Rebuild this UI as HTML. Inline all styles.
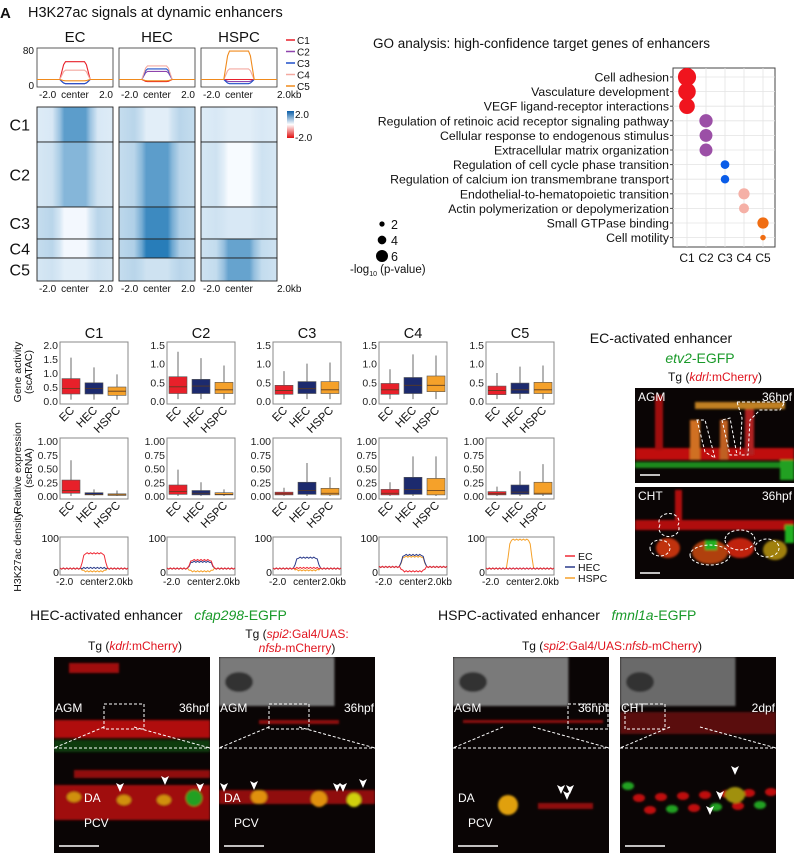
<!DOCTYPE html>
<html><head><meta charset="utf-8">
<style>
body{margin:0;background:#fff;}
svg{display:block;font-family:"Liberation Sans",Arial,sans-serif;}
</style></head>
<body>
<svg id="fig" width="799" height="853" viewBox="0 0 799 853" xmlns="http://www.w3.org/2000/svg">
<defs>
<filter id="blur2"><feGaussianBlur stdDeviation="2"/></filter>
<filter id="blur1"><feGaussianBlur stdDeviation="1"/></filter>
</defs>
<g id="root"></g>
</svg>
<script>
// ---------- DATA ----------
const profileGroups = ["EC","HEC","HSPC"];
const clusters = ["C1","C2","C3","C4","C5"];
const clusterColors = ["#e8202a","#8e44ad","#1f4fc8","#f4a9a0","#f08a1c"];
const profFlank = [13,13,13];
const profEC = [55,3,3,35,10];
const profHEC = [8,32,38,45,10];
const profHSPC = [13,8,3,38,80];
const heatEC = [[0.15,0.75],[0.2,0.55],[0.3,0.02],[0.3,0.02],[0.2,0.1]];
const heatHEC = [[0.3,0.1],[0.3,0.75],[0.35,0.9],[0.35,1.0],[0.3,0.2]];
const heatHSPC = [[0.15,0.1],[0.2,0.0],[0.2,0.15],[0.25,0.7],[0.25,0.7]];
const heatRowCounts = [35,65,32,19,23];
const goTerms = ["Cell adhesion","Vasculature development","VEGF ligand-receptor interactions","Regulation of retinoic acid receptor signaling pathway","Cellular response to endogenous stimulus","Extracellular matrix organization","Regulation of cell cycle phase transition","Regulation of calcium ion transmembrane transport","Endothelial-to-hematopoietic transition","Actin polymerization or depolymerization","Small GTPase binding","Cell motility"];
const goCluster = [0,0,0,1,1,1,2,2,3,3,4,4];
const goPval = [7.5,7.2,6.3,5.2,5.0,5.0,3.0,2.9,4.2,3.6,4.2,1.5];
const goColors = ["#f0141e","#9b4fa6","#0a5ce8","#f5b0a6","#f06d12"];
const boxGroups = ["EC","HEC","HSPC"];
const boxColors = ["#e8202a","#1c2a6e","#f5a12a"];
const atacMax = [2.0,1.5,1.5,1.5,1.5];
const atacTicks = [["0.0","0.5","1.0","1.5","2.0"],["0.0","0.5","1.0","1.5"],["0.0","0.5","1.0","1.5"],["0.0","0.5","1.0","1.5"],["0.0","0.5","1.0","1.5"]];
const atacC1 = [[0.05,0.25,0.45,0.8,1.55],[0.05,0.25,0.45,0.65,1.2],[0.05,0.2,0.35,0.5,0.95]];
const atacC2 = [[0.05,0.2,0.38,0.65,1.32],[0.05,0.2,0.4,0.58,1.15],[0.05,0.2,0.3,0.5,0.95]];
const atacC3 = [[0.05,0.18,0.28,0.42,0.8],[0.05,0.2,0.33,0.52,1.0],[0.05,0.2,0.3,0.52,1.03]];
const atacC4 = [[0.05,0.18,0.3,0.47,0.85],[0.05,0.2,0.42,0.63,1.25],[0.05,0.25,0.42,0.67,1.22]];
const atacC5 = [[0.05,0.17,0.28,0.4,0.75],[0.05,0.2,0.3,0.48,0.92],[0.05,0.2,0.3,0.5,0.95]];
const rnaTicks = ["0.00","0.25","0.50","0.75","1.00"];
const rnaC1 = [[0.0,0.05,0.1,0.29,0.65],[0.0,0.02,0.03,0.06,0.12],[0.0,0.01,0.02,0.04,0.1]];
const rnaC2 = [[0.0,0.03,0.08,0.2,0.48],[0.0,0.02,0.05,0.1,0.25],[0.0,0.02,0.03,0.06,0.12]];
const rnaC3 = [[0.0,0.02,0.04,0.07,0.15],[0.0,0.03,0.1,0.25,0.6],[0.0,0.02,0.05,0.14,0.34]];
const rnaC4 = [[0.0,0.02,0.05,0.12,0.25],[0.0,0.03,0.12,0.34,0.72],[0.0,0.02,0.1,0.32,0.72]];
const rnaC5 = [[0.0,0.02,0.04,0.08,0.17],[0.0,0.03,0.07,0.2,0.45],[0.0,0.03,0.05,0.25,0.58]];
const densFlank = [10,10,10,15,10];
const densC1 = [55,12,2];
const densC2 = [35,30,2];
const densC3 = [12,42,5];
const densC4 = [2,50,45];
const densC5 = [10,10,95];

const NS="http://www.w3.org/2000/svg";
const root=document.getElementById('root');
function mk(tag,attrs,parent,text){const e=document.createElementNS(NS,tag);for(const k in attrs)e.setAttribute(k,attrs[k]);if(text!==undefined)e.textContent=text;(parent||root).appendChild(e);return e;}
function txt(x,y,s,size,opts,parent){const o=Object.assign({x:x,y:y,'font-size':size,fill:'#111'},opts||{});return mk('text',o,parent,s);}
function lerpColor(t){const a=[247,251,255],b=[40,125,185];const c=a.map((v,i)=>Math.round(v+(b[i]-v)*t));return `rgb(${c[0]},${c[1]},${c[2]})`;}
function plateau(n,flank,center){const pts=[];for(let i=0;i<=n;i++){const u=i/n;let w;if(u<0.3)w=0;else if(u<0.36)w=(u-0.3)/0.06;else if(u<0.64)w=1;else if(u<0.7)w=(0.7-u)/0.06;else w=0;pts.push([u,flank+(center-flank)*w]);}return pts;}

let e;
e=txt(0,18,"A",15,{'font-weight':'bold'});

e=txt(28,17,"H3K27ac signals at dynamic enhancers",14.5);

const colX=[37,119,201], colW=76;
const profSets=[profEC,profHEC,profHSPC];
const heatSets=[heatEC,heatHEC,heatHSPC];
profileGroups.forEach((g,gi)=>{
  const x0=colX[gi];
  e=txt(x0+colW/2,42,g,15,{'text-anchor':'middle'});
  
  const py0=48,ph=39;
  e=mk('rect',{x:x0,y:py0,width:colW,height:ph,fill:'#fff',stroke:'#333','stroke-width':0.8});
  
  const ys=v=>py0+ph-2-(v/85)*(ph-3);
  clusters.forEach((c,ci)=>{
    const pts=plateau(40,profFlank[gi],profSets[gi][ci]);
    const d=pts.map((p,i)=>(i?'L':'M')+(x0+p[0]*colW).toFixed(1)+','+ys(p[1]).toFixed(1)).join(' ');
    e=mk('path',{d:d,fill:'none',stroke:clusterColors[ci],'stroke-width':1.1});
    
  });
  e=txt(x0+2,98,"-2.0",10,{});
  e=txt(x0+colW/2,98,"center",10,{'text-anchor':'middle'});
  e=txt(x0+colW,98,gi==2?"2.0kb":"2.0",10,{'text-anchor':gi==2?'start':'end'});
  const hy0=107,hh=174;const tot=heatRowCounts.reduce((a,b)=>a+b,0);let cy=hy0;
  clusters.forEach((c,ci)=>{
    const h=heatRowCounts[ci]/tot*hh;const [f,cn]=heatSets[gi][ci];
    const gid='hg'+gi+'_'+ci;
    const lg=mk('linearGradient',{id:gid,x1:0,x2:1,y1:0,y2:0},document.querySelector('defs'));
    [[0,f*0.8],[0.2,f],[0.3,(f+cn)/2],[0.36,cn],[0.64,cn],[0.7,(f+cn)/2],[0.8,f],[1,f*0.8]].forEach(s=>mk('stop',{offset:s[0],'stop-color':lerpColor(s[1])},lg));
    e=mk('rect',{x:x0,y:cy,width:colW,height:h,fill:`url(#${gid})`,stroke:'#222','stroke-width':0.9});
    
    if(gi==0){e=txt(30,cy+h/2+6,c,16,{'text-anchor':'end'});}
    cy+=h;
  });
  e=txt(x0+2,292,"-2.0",10,{});
  e=txt(x0+colW/2,292,"center",10,{'text-anchor':'middle'});
  e=txt(x0+colW,292,gi==2?"2.0kb":"2.0",10,{'text-anchor':gi==2?'start':'end'});
});
e=txt(34,54,"80",10,{'text-anchor':'end'});
e=txt(34,89,"0",10,{'text-anchor':'end'});
clusters.forEach((c,ci)=>{
  const y=40+ci*11.5;
  e=mk('line',{x1:286,x2:295,y1:y,y2:y,stroke:clusterColors[ci],'stroke-width':1.5});
  e=txt(297,y+4,c,10);
});
const cb=mk('linearGradient',{id:'cbar',x1:0,x2:0,y1:0,y2:1},document.querySelector('defs'));
[[0,'#0b5ea8'],[0.5,'#ffffff'],[1,'#e01010']].forEach(s=>mk('stop',{offset:s[0],'stop-color':s[1]},cb));
e=mk('rect',{x:287,y:111,width:7,height:27,fill:'url(#cbar)'});
e=txt(295,118,"2.0",10);
e=txt(295,141,"-2.0",10);

// GO
e=txt(373,48,"GO analysis: high-confidence target genes of enhancers",13.5);

const gx0=673,gx1=775,gy0=68,gy1=247;
const goX=ci=>687+ci*19, goY=ti=>77+ti*14.6, goR=p=>1.2+p*1.05;
e=mk('rect',{x:gx0,y:gy0,width:gx1-gx0,height:gy1-gy0,fill:'#fff',stroke:'#444','stroke-width':1});

clusters.forEach((c,ci)=>{e=mk('line',{x1:goX(ci),x2:goX(ci),y1:gy0,y2:gy1,stroke:'#e4e4e4','stroke-width':0.8});
  e=txt(goX(ci),262,c,12,{'text-anchor':'middle'});});
goTerms.forEach((t,ti)=>{
  e=mk('line',{x1:gx0,x2:gx1,y1:goY(ti),y2:goY(ti),stroke:'#e4e4e4','stroke-width':0.8});
  e=mk('line',{x1:gx0-3,x2:gx0,y1:goY(ti),y2:goY(ti),stroke:'#444'});
  e=txt(gx0-4,goY(ti)+4.5,t,12.3,{'text-anchor':'end'});
});
goTerms.forEach((t,ti)=>{
  e=mk('circle',{cx:goX(goCluster[ti]),cy:goY(ti),r:goR(goPval[ti]),fill:goColors[goCluster[ti]]});
  
});
[2,4,6].forEach((v,i)=>{const y=224+i*16;e=mk('circle',{cx:382,cy:y,r:goR(v)*0.8,fill:'#000'});
  e=txt(391,y+5,String(v),12.5);});
e=mk('text',{x:350,y:273,'font-size':11.5,fill:'#111'});e.innerHTML='-log<tspan font-size="7" dy="3">10</tspan><tspan dy="-3"> (p-value)</tspan>';


// boxes
const atacSets=[atacC1,atacC2,atacC3,atacC4,atacC5];
const rnaSets=[rnaC1,rnaC2,rnaC3,rnaC4,rnaC5];
const densSets=[densC1,densC2,densC3,densC4,densC5];
const px=[60,167,273,379,486], pw=68;
function boxPanel(x0,y0,h,max,ticks,data,tag){
  e=mk('rect',{x:x0,y:y0,width:pw,height:h,fill:'#fff',stroke:'#888','stroke-width':1});
  
  const ys=v=>y0+h-3-(v/max)*(h-6);
  ticks.forEach((t,i)=>{const v=max*i/(ticks.length-1);e=txt(x0-2,ys(v)+4,t,10.5,{'text-anchor':'end',fill:'#222'});});
  data.forEach((b,bi)=>{
    const cx=x0+11+bi*23;const bw=18;
    e=mk('line',{x1:cx,x2:cx,y1:ys(b[0]),y2:ys(b[4]),stroke:'#444','stroke-width':0.8});
    e=mk('rect',{x:cx-bw/2,y:ys(b[3]),width:bw,height:Math.max(1,ys(b[1])-ys(b[3])),fill:boxColors[bi],stroke:'#555','stroke-width':0.6});
    e=mk('line',{x1:cx-bw/2,x2:cx+bw/2,y1:ys(b[2]),y2:ys(b[2]),stroke:'#5a3a20','stroke-width':0.8});
    e=txt(0,0,boxGroups[bi],11.5,{'text-anchor':'end',transform:`translate(${cx+4},${y0+h+7}) rotate(-45)`});
  });
}
clusters.forEach((c,ci)=>{
  e=txt(px[ci]+pw/2,338,c,14.5,{'text-anchor':'middle'});
  boxPanel(px[ci],342,62,atacMax[ci],atacTicks[ci],atacSets[ci],'atac-'+c.toLowerCase());
  boxPanel(px[ci],438,61,1.0,rnaTicks,rnaSets[ci],'rna-'+c.toLowerCase());
  const x0=px[ci],y0=537,h=38;
  e=mk('rect',{x:x0,y:y0,width:pw,height:h,fill:'#fff',stroke:'#888','stroke-width':1});
  const ys=v=>y0+h-3-(v/100)*(h-4);
  [2,1,0].forEach(gi=>{const pts=plateau(40,densFlank[ci],densSets[ci][gi]);
    const d=pts.map((p,i)=>(i?'L':'M')+(x0+p[0]*pw).toFixed(1)+','+(ys(p[1])+(i%2?0.6:-0.6)).toFixed(1)).join(' ');
    e=mk('path',{d:d,fill:'none',stroke:['#ef2a35','#2a3a8a','#f5a12a'][gi],'stroke-width':1});});
  e=txt(x0-1,y0+5,"100",10.5,{'text-anchor':'end'});
  e=txt(x0-1,y0+h+1,"0",10.5,{'text-anchor':'end'});
  e=txt(x0-4,y0+h+10,"-2.0",10,{});
  e=txt(x0+pw/2,y0+h+10,"center",10,{'text-anchor':'middle'});
  e=txt(x0+pw+5,y0+h+10,"2.0kb",10,{'text-anchor':'end'});
});
e=txt(0,0,"Gene activity",10.5,{'text-anchor':'middle',transform:'translate(21,372) rotate(-90)'});
e=txt(0,0,"(scATAC)",10.5,{'text-anchor':'middle',transform:'translate(32,372) rotate(-90)'});
e=txt(0,0,"Relative expression",10.5,{'text-anchor':'middle',transform:'translate(21,468) rotate(-90)'});
e=txt(0,0,"(scRNA)",10.5,{'text-anchor':'middle',transform:'translate(32,468) rotate(-90)'});
e=txt(0,0,"H3K27ac density",10.5,{'text-anchor':'middle',transform:'translate(21,552) rotate(-90)'});
["EC","HEC","HSPC"].forEach((g,gi)=>{const y=556+gi*11;
  e=mk('line',{x1:565,x2:575,y1:y,y2:y,stroke:['#ef2a35','#2a3a8a','#f5a12a'][gi],'stroke-width':1.5});
  e=txt(578,y+4,g,10.5);});

// microscopy
function micro(x,y,w,h,name,blobs){
  const g=mk('g',{});
  mk('rect',{x:x,y:y,width:w,height:h,fill:'#0a0505'},g);
  const cl=mk('clipPath',{id:'cp_'+name},document.querySelector('defs'));mk('rect',{x:x,y:y,width:w,height:h},cl);
  const bg=mk('g',{'clip-path':`url(#cp_${name})`,filter:'url(#blur1)'},g);
  blobs.forEach(b=>mk(b[0],b[1],bg));
  return g;
}
function lab(x,y,s,size,anchor,name){e=txt(x,y,s,size,{fill:'#fff','text-anchor':anchor||'start'});}
function arrow(x,y){e=mk('path',{d:`M${x},${y} l-4,-9 l4,2 l4,-2 z`,fill:'#fff'});}
e=txt(661,343,"EC-activated enhancer",14,{'text-anchor':'middle'});
e=mk('text',{x:700,y:363,'font-size':14,'text-anchor':'middle',fill:'#1a9a2a'});e.innerHTML='<tspan font-style="italic">etv2</tspan>-EGFP';
e=mk('text',{x:715,y:381,'font-size':12,'text-anchor':'middle',fill:'#111'});e.innerHTML='Tg (<tspan fill="#e0141e" font-style="italic">kdrl</tspan><tspan fill="#e0141e">:mCherry</tspan>)';
micro(635,388,159,95,'ec-agm-image',[
 ['rect',{x:635,y:448,width:159,height:12,fill:'#c01010'}],['rect',{x:635,y:462,width:159,height:6,fill:'#1a8a1a'}],
 ['rect',{x:655,y:395,width:8,height:55,fill:'#a01010'}],['rect',{x:690,y:420,width:10,height:40,fill:'#d07020'}],
 ['rect',{x:720,y:420,width:8,height:40,fill:'#c06020'}],['rect',{x:745,y:405,width:9,height:50,fill:'#b02020'}],
 ['rect',{x:695,y:402,width:90,height:7,fill:'#c08020'}],['rect',{x:780,y:460,width:14,height:20,fill:'#20a020'}]]);
lab(638,401,"AGM",12,'start','agm-label');lab(792,401,"36hpf",12,'end','hpf-label');
e=mk('path',{d:'M697,420 L705,452 L715,458 L705,420 Z M722,420 L730,455 L737,455 L730,418 Z M737,402 L785,402 L780,410 L760,410 L750,420 L748,455 L740,455 L742,418 Z',fill:'none',stroke:'#fff','stroke-width':1,'stroke-dasharray':'3,2'});
mk('line',{x1:640,x2:660,y1:475,y2:475,stroke:'#fff','stroke-width':1.5});
micro(635,487,159,92,'ec-cht-image',[
 ['rect',{x:635,y:520,width:159,height:10,fill:'#b01010'}],['ellipse',{cx:668,cy:548,rx:12,ry:10,fill:'#c03010'}],
 ['ellipse',{cx:710,cy:552,rx:18,ry:12,fill:'#b04010'}],['ellipse',{cx:740,cy:548,rx:14,ry:10,fill:'#c02010'}],
 ['ellipse',{cx:775,cy:550,rx:12,ry:10,fill:'#a08010'}],['rect',{x:705,y:540,width:12,height:10,fill:'#20b020'}],
 ['rect',{x:785,y:525,width:9,height:18,fill:'#20b020'}],['rect',{x:675,y:490,width:7,height:30,fill:'#b01010'}]]);
lab(638,500,"CHT",12,'start','cht-label');lab(792,500,"36hpf",12,'end','hpf-label');
e=mk('path',{d:'M660,525 a10,8 0 1,0 18,0 a10,8 0 1,0 -18,0 M650,548 a10,8 0 1,0 20,0 a10,8 0 1,0 -20,0 M690,555 a20,10 0 1,0 40,0 a20,10 0 1,0 -40,0 M725,540 a15,10 0 1,0 30,0 a15,10 0 1,0 -30,0 M755,548 a12,9 0 1,0 24,0 a12,9 0 1,0 -24,0',fill:'none',stroke:'#fff','stroke-width':1,'stroke-dasharray':'3,2'});
mk('line',{x1:640,x2:660,y1:573,y2:573,stroke:'#fff','stroke-width':1.5});

e=mk('text',{x:30,y:620,'font-size':14,fill:'#111'});e.innerHTML='HEC-activated enhancer&#160;&#160;&#160;<tspan fill="#1a9a2a"><tspan font-style="italic">cfap298</tspan>-EGFP</tspan>';
e=mk('text',{x:438,y:620,'font-size':14,fill:'#111'});e.innerHTML='HSPC-activated enhancer&#160;&#160;&#160;<tspan fill="#1a9a2a"><tspan font-style="italic">fmnl1a</tspan>-EGFP</tspan>';
e=mk('text',{x:135,y:650,'font-size':12,'text-anchor':'middle',fill:'#111'});e.innerHTML='Tg (<tspan fill="#e0141e"><tspan font-style="italic">kdrl</tspan>:mCherry</tspan>)';
e=mk('text',{x:297,y:638,'font-size':12,'text-anchor':'middle',fill:'#111'});e.innerHTML='Tg (<tspan fill="#e0141e"><tspan font-style="italic">spi2</tspan>:Gal4/UAS:</tspan>';
e=mk('text',{x:297,y:652,'font-size':12,'text-anchor':'middle',fill:'#111'});e.innerHTML='<tspan fill="#e0141e"><tspan font-style="italic">nfsb</tspan>-mCherry</tspan>)';
e=mk('text',{x:612,y:650,'font-size':12,'text-anchor':'middle',fill:'#111'});e.innerHTML='Tg (<tspan fill="#e0141e"><tspan font-style="italic">spi2</tspan>:Gal4/UAS:<tspan font-style="italic">nfsb</tspan>-mCherry</tspan>)';
const bp=[[54,'hec-kdrl',false,'AGM','36hpf'],[219,'hec-spi2',true,'AGM','36hpf'],[453,'hspc-agm',true,'AGM','36hpf'],[620,'hspc-cht',true,'CHT','2dpf']];
bp.forEach((p,i)=>{
  const x=p[0],w=156,y=657,h=196;
  const blobs=[];
  if(i==0){blobs.push(['rect',{x:x,y:720,width:w,height:18,fill:'#b01010'}],['rect',{x:x,y:740,width:w,height:12,fill:'#0c3a10'}],['rect',{x:x,y:785,width:w,height:35,fill:'#a01010'}],['rect',{x:x+20,y:770,width:w-20,height:8,fill:'#901010'}],['ellipse',{cx:x+20,cy:797,rx:7,ry:5,fill:'#d09010'}],['ellipse',{cx:x+70,cy:800,rx:7,ry:5,fill:'#d09010'}],['ellipse',{cx:x+110,cy:800,rx:7,ry:5,fill:'#d09010'}],['ellipse',{cx:x+140,cy:798,rx:8,ry:8,fill:'#20a020'}],['rect',{x:x+15,y:663,width:50,height:10,fill:'#a01010'}]);}
  else {blobs.push(['rect',{x:x,y:y,width:w*0.74,height:49,fill:i==3?'#6a6a6a':'#7a7a7a'}]);
    blobs.push(['ellipse',{cx:x+20,cy:y+25,rx:14,ry:10,fill:'#333'}]);
    if(i==3){for(let k=0;k<14;k++)blobs.push(['ellipse',{cx:x+8+k*11,cy:798+((k*37)%25)-12,rx:6,ry:4,fill:k%4==0?'#20a020':'#c01010'}]);blobs.push(['rect',{x:x,y:712,width:w,height:22,fill:'#5a0808'}]);blobs.push(['ellipse',{cx:x+115,cy:795,rx:10,ry:8,fill:'#a09010'}]);}
    else if(i==1){blobs.push(['rect',{x:x+40,y:720,width:80,height:4,fill:'#901010'}],['rect',{x:x,y:790,width:w,height:14,fill:'#901010'}],['ellipse',{cx:x+40,cy:797,rx:8,ry:7,fill:'#e09010'}],['ellipse',{cx:x+100,cy:799,rx:8,ry:8,fill:'#e09010'}],['ellipse',{cx:x+135,cy:800,rx:7,ry:7,fill:'#d0d010'}]);}
    else {blobs.push(['rect',{x:x+10,y:720,width:140,height:3,fill:'#901010'}],['ellipse',{cx:x+55,cy:805,rx:10,ry:10,fill:'#e0a010'}],['rect',{x:x+85,y:803,width:55,height:6,fill:'#901010'}]);}
  }
  micro(x,y,w,h,'micro-'+p[1],blobs);
  lab(x+1,y+55,p[3],12,'start','region-label');lab(x+w-1,y+55,p[4],12,'end','stage-label');
  e=mk('path',{d:`M${x},${y+91} L${x+w},${y+91} M${x+50},${y+70} L${x} ${y+91} M${x+80},${y+70} L${x+w},${y+91}`,stroke:'#fff','stroke-width':1,'stroke-dasharray':'3,2',fill:'none'});
  e=mk('rect',{x:x+(i==2?115:i==3?5:50),y:y+47,width:40,height:25,fill:'none',stroke:'#fff','stroke-width':1,'stroke-dasharray':'3,2'});
  mk('line',{x1:x+5,x2:x+45,y1:846,y2:846,stroke:'#fff','stroke-width':1.5});
  if(i<3){lab(x+(i==0?30:5),y+145,"DA",12,'start','da-label');lab(x+(i==0?30:15),y+170,"PCV",12,'start','pcv-label');}
});
[[120,792],[165,785],[200,792],[224,792],[254,790],[337,792],[343,792],[363,788],[561,794],[567,800],[570,794],[735,775],[720,800],[710,815]].forEach(a=>arrow(a[0],a[1]));
</script>
</body></html>
